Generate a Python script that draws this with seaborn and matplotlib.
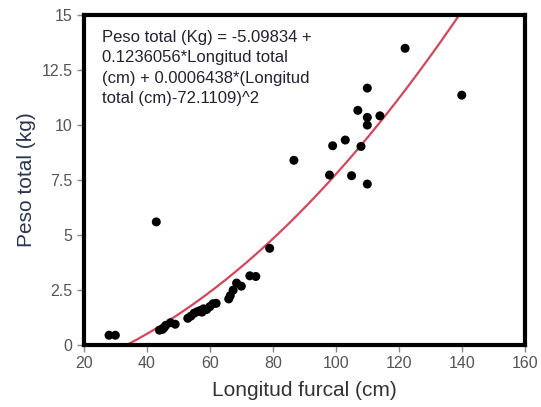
"""Peso total vs longitud furcal: dispersión + ajuste cuadrático."""

import matplotlib

matplotlib.use("Agg")
import matplotlib.pyplot as plt
import numpy as np
import pandas as pd
import seaborn as sns

# datos
longitud = [28, 30, 43, 44, 45, 45.5, 46, 47.5, 49,
            53, 54, 55, 56, 57, 57.5, 58, 59, 60, 61, 62,
            66, 66.5, 67.4, 68.5, 70, 72.7, 74.6, 79, 86.7,
            98, 99, 103, 105, 107, 108, 110, 110, 110, 110, 114, 122, 140]
peso = [0.45, 0.45, 5.6, 0.68, 0.72, 0.8, 0.9, 1.02, 0.95,
        1.22, 1.32, 1.45, 1.52, 1.58, 1.5, 1.65, 1.62, 1.75, 1.88, 1.9,
        2.1, 2.25, 2.5, 2.82, 2.68, 3.15, 3.12, 4.4, 8.4,
        7.73, 9.06, 9.32, 7.7, 10.67, 9.03, 11.68, 10.35, 10.0, 7.32, 10.42, 13.49, 11.36]

# coeficientes del ajuste (del texto del gráfico)
b0, b1, b2, centro = -5.09834, 0.1236056, 0.0006438, 72.1109

xticks = [20, 40, 60, 80, 100, 120, 140, 160]
yticks = [0, 2.5, 5, 7.5, 10, 12.5, 15]
ytick_labels = ["0", "2.5", "5", "7.5", "10", "12.5", "15"]

ecuacion = ("Peso total (Kg) = -5.09834 +\n"
            "0.1236056*Longitud total\n"
            "(cm) + 0.0006438*(Longitud\n"
            "total (cm)-72.1109)^2")

sns.set_theme(style="white")
plt.rcParams["font.family"] = ["Liberation Sans", "DejaVu Sans"]

df = pd.DataFrame({"x": longitud, "y": peso})
xs = np.linspace(20, 160, 300)
df_fit = pd.DataFrame({"x": xs, "y": b0 + b1 * xs + b2 * (xs - centro) ** 2})

fig = plt.figure(figsize=(5.41, 4.07), dpi=100)
ax = fig.add_axes([0.155, 0.152, 0.815, 0.811])

sns.lineplot(data=df_fit, x="x", y="y", ax=ax, color="#d8455a", lw=1.6, zorder=2)
sns.scatterplot(data=df, x="x", y="y", ax=ax, color="black", s=42,
                edgecolor="none", zorder=3)

ax.set_xlim(20, 160)
ax.set_ylim(0, 15)
ax.set_xticks(xticks)
ax.set_yticks(yticks)
ax.set_yticklabels(ytick_labels)
ax.tick_params(axis="both", direction="out", length=5, width=1, color="#888888",
               labelsize=11.5, labelcolor="#555555", pad=3,
               bottom=True, left=True)
for s in ax.spines.values():
    s.set_color("black")
    s.set_linewidth(3)
    s.set_visible(True)

ax.set_xlabel("Longitud furcal (cm)", fontsize=15, color="#333333", labelpad=7)
ax.set_ylabel("Peso total (kg)", fontsize=15, color="#2b3550", labelpad=4)

ax.text(0.042, 0.955, ecuacion, transform=ax.transAxes, ha="left", va="top",
        fontsize=12, color="#222233", linespacing=1.45)

fig.savefig("out.png", dpi=100)
plt.close(fig)
